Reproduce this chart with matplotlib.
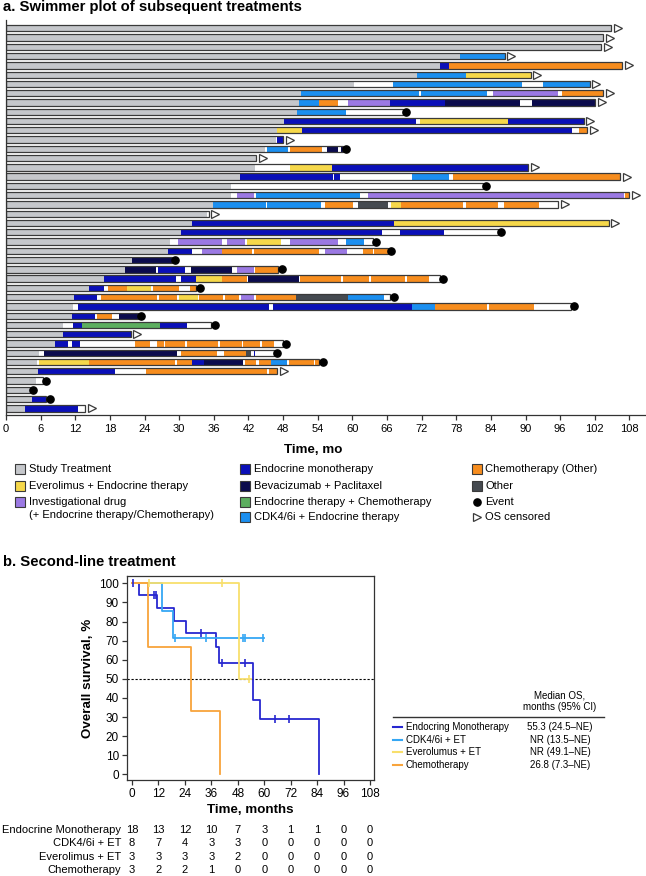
import matplotlib
matplotlib.use("Agg")
import matplotlib.pyplot as plt
from matplotlib.lines import Line2D
from matplotlib.patches import Rectangle
from matplotlib.transforms import blended_transform_factory
import numpy as np

plt.rcParams['font.family'] = ['Liberation Sans', 'DejaVu Sans']

# ---------------- DATA: swimmer plot (segment code, end month) ----------------
# S study, Y everolimus+ET, P investigational, B endocrine mono, N bev+pac,
# G endocrine+chemo, C CDK4/6i+ET, O chemo (other), X other, W no treatment
p01 = [("S", 104.8)]
p02 = [("S", 103.4)]
p03 = [("S", 103.1)]
p04 = [("S", 78.6), ("C", 86.4)]
p05 = [("S", 75.2), ("B", 76.8), ("O", 106.8)]
p06 = [("S", 71.2), ("C", 79.7), ("Y", 90.9)]
p07 = [("S", 60.3), ("W", 67.1), ("C", 89.4), ("W", 93.0), ("C", 101.1)]
p08 = [("S", 51.1), ("C", 71.6), ("W", 71.9), ("C", 83.4), ("W", 84.3), ("P", 95.6), ("W", 96.3), ("O", 103.4)]
p09 = [("S", 50.8), ("C", 54.2), ("O", 57.6), ("W", 59.3), ("P", 66.6), ("B", 76.1), ("N", 89.1), ("W", 91.2), ("N", 102.1)]
p10 = [("S", 50.4), ("C", 58.9), ("W", 68.8)]
p11 = [("S", 48.2), ("B", 71.0), ("W", 71.8), ("Y", 86.9), ("B", 100.1)]
p12 = [("S", 47.0), ("Y", 51.3), ("B", 98.0), ("W", 99.3), ("O", 100.7)]
p13 = [("S", 46.8), ("W", 47.0), ("B", 48.0)]
p14 = [("S", 44.9), ("W", 45.3), ("C", 48.9), ("W", 49.2), ("O", 54.7), ("W", 55.6), ("N", 57.6), ("W", 58.0), ("N", 58.3)]
p15 = [("S", 43.3)]
p16 = [("S", 43.2), ("W", 49.2), ("Y", 56.4), ("B", 90.5)]
p17 = [("S", 40.6), ("B", 56.6), ("W", 56.8), ("B", 57.9), ("W", 70.3), ("C", 76.8), ("W", 77.4), ("O", 106.4)]
p18 = [("S", 38.9), ("W", 82.6)]
p19 = [("S", 38.9), ("W", 40.0), ("P", 43.0), ("W", 43.3), ("C", 61.4), ("W", 62.7), ("P", 107.1), ("W", 107.3), ("O", 108.0)]
p20 = [("S", 35.8), ("C", 45.0), ("W", 45.2), ("C", 54.6), ("W", 55.2), ("O", 60.2), ("W", 60.9), ("X", 66.1), ("W", 66.7),
       ("Y", 68.5), ("O", 79.1), ("W", 79.7), ("O", 85.3), ("W", 86.2), ("O", 92.4), ("W", 95.7)]
p21 = [("S", 34.8), ("W", 35.1)]
p22 = [("S", 32.2), ("B", 67.2), ("Y", 104.4)]
p23 = [("S", 30.3), ("B", 65.2), ("W", 68.3), ("B", 75.8), ("W", 85.2)]
p24 = [("S", 28.4), ("W", 29.8), ("P", 37.4), ("W", 38.2), ("P", 41.4), ("W", 41.7), ("Y", 47.6), ("W", 49.2), ("P", 57.6),
       ("W", 58.9), ("C", 62.0), ("W", 63.6)]
p25 = [("S", 28.0), ("B", 32.2), ("W", 34.0), ("P", 37.4), ("O", 42.7), ("W", 43.0), ("O", 54.2), ("W", 55.3), ("P", 59.0),
       ("W", 61.8), ("O", 63.6), ("W", 63.8), ("O", 66.2)]
p26 = [("S", 21.9), ("N", 28.7)]
p27 = [("S", 20.6), ("N", 26.0), ("W", 26.3), ("B", 31.0), ("W", 32.1), ("N", 39.1), ("W", 40.0), ("P", 42.9), ("W", 43.2), ("O", 47.2)]
p28 = [("S", 17.0), ("B", 29.4), ("W", 30.3), ("B", 33.0), ("Y", 37.4), ("O", 41.7), ("W", 42.0), ("N", 50.7), ("W", 51.0),
       ("O", 58.0), ("W", 58.3), ("O", 62.9), ("W", 63.2), ("O", 69.2), ("W", 69.5), ("O", 73.2), ("W", 75.1)]
p29 = [("S", 14.4), ("B", 16.9), ("W", 17.6), ("O", 21.0), ("Y", 25.2), ("W", 25.5), ("O", 29.9), ("W", 31.8), ("O", 33.0)]
p30 = [("S", 11.8), ("B", 15.7), ("W", 16.4), ("O", 26.2), ("W", 26.5), ("O", 29.6), ("W", 29.9), ("Y", 33.2), ("W", 33.5),
       ("O", 37.6), ("W", 37.9), ("O", 40.4), ("W", 40.7), ("P", 43.0), ("W", 43.3), ("O", 50.3), ("X", 59.2), ("C", 65.5), ("W", 66.6)]
p31 = [("S", 11.6), ("W", 12.4), ("B", 45.5), ("W", 46.3), ("B", 70.3), ("C", 74.4), ("O", 83.3), ("W", 83.6), ("O", 91.5), ("W", 97.9)]
p32 = [("S", 11.4), ("B", 15.4), ("W", 15.8), ("O", 18.3), ("W", 19.6), ("N", 22.9)]
p33 = [("S", 9.8), ("W", 11.6), ("B", 13.1), ("G", 26.7), ("B", 31.3), ("W", 35.6)]
p34 = [("S", 9.8), ("B", 21.6)]
p35 = [("S", 8.5), ("B", 10.7), ("W", 11.4), ("B", 12.8), ("W", 22.4), ("O", 25.0), ("W", 26.1), ("O", 27.3), ("W", 27.6),
       ("O", 31.0), ("W", 31.3), ("O", 36.8), ("W", 37.1), ("O", 40.8), ("W", 41.1), ("O", 44.0), ("W", 44.3), ("O", 46.4), ("W", 48.0)]
p36 = [("S", 5.8), ("W", 6.6), ("N", 29.6), ("W", 30.3), ("O", 36.5), ("W", 37.7), ("O", 41.5), ("X", 42.4), ("W", 42.9),
       ("B", 43.2), ("W", 46.4)]
p37 = [("S", 5.4), ("W", 5.7), ("Y", 14.4), ("O", 29.3), ("W", 29.6), ("O", 32.2), ("B", 34.3), ("N", 41.0), ("W", 41.4),
       ("O", 43.3), ("W", 43.9), ("O", 45.9), ("C", 48.6), ("W", 49.1), ("O", 53.3), ("W", 53.6), ("O", 54.3)]
p38 = [("S", 5.6), ("B", 18.8), ("W", 24.2), ("O", 45.2), ("W", 45.5), ("O", 47.0)]
p39 = [("S", 5.2), ("W", 6.4)]
p40 = [("S", 4.1)]
p41 = [("S", 4.5), ("B", 7.0)]
p42 = [("S", 3.3), ("B", 12.5), ("W", 13.7)]

patients = [p01, p02, p03, p04, p05, p06, p07, p08, p09, p10, p11, p12, p13, p14,
            p15, p16, p17, p18, p19, p20, p21, p22, p23, p24, p25, p26, p27, p28,
            p29, p30, p31, p32, p33, p34, p35, p36, p37, p38, p39, p40, p41, p42]
# C = OS censored, E = event
outcomes = "CCCCCCCCCECCCECCCECCCCEEEEEEEEEEECEEECEEEC"

swim_ticks = list(range(0, 109, 6))

legend_a_labels = ["Study Treatment", "Everolimus + Endocrine therapy", "Investigational drug",
                   "Endocrine monotherapy", "Bevacizumab + Paclitaxel", "Endocrine therapy + Chemotherapy",
                   "CDK4/6i + Endocrine therapy", "Chemotherapy (Other)", "Other", "Event", "OS censored"]

# ---------------- DATA: Kaplan-Meier ----------------
endo_t = [0, 3.2, 11.2, 19.1, 24.5, 38.1, 39.5, 54.8, 58.1, 85.0]
endo_s = [100, 94.1, 87.3, 80.5, 73.9, 66.5, 58.5, 39.0, 29.0, 0]
endo_cens = [0.6, 10.1, 10.9, 31.3, 41.0, 51.3, 65.0, 71.4]

cdk_t = [0, 13.6, 18.8, 59.8]
cdk_s = [100, 85.5, 71.2, 71.2]
cdk_cens = [19.4, 33.6, 50.5, 51.3, 59.6]

evero_t = [0, 48.5, 53.8]
evero_s = [100, 50, 50]
evero_cens = [7.6, 40.7, 53.2]

chemo_t = [0, 7.4, 26.6, 39.9]
chemo_s = [100, 66.7, 33.3, 0]
chemo_cens = []

km_labels = ["Endocring Monotherapy", "CDK4/6i + ET", "Everolumus + ET", "Chemotherapy"]
km_medians = ["55.3 (24.5\u2013NE)", "NR (13.5\u2013NE)", "NR (49.1\u2013NE)", "26.8 (7.3\u2013NE)"]

risk_labels = ["Endocrine Monotherapy", "CDK4/6i + ET", "Everolimus + ET", "Chemotherapy"]
risk_times = list(range(0, 109, 12))
risk_endo = [18, 13, 12, 10, 7, 3, 1, 1, 0, 0]
risk_cdk = [8, 7, 4, 3, 3, 0, 0, 0, 0, 0]
risk_evero = [3, 3, 3, 3, 2, 0, 0, 0, 0, 0]
risk_chemo = [3, 2, 2, 1, 0, 0, 0, 0, 0, 0]

# ---------------- STYLE ----------------
colors = {"S": "#c5c7cb", "Y": "#f6d84a", "P": "#9b79e3", "B": "#0a0fb8", "N": "#0b0b4d",
          "G": "#5cae5f", "C": "#1b8ff0", "O": "#f78d1e", "X": "#454a50", "W": "#ffffff"}
legend_codes = ["S", "Y", "P", "B", "N", "G", "C", "O", "X"]
km_colors = ["#2727d0", "#35a7f4", "#f8df6c", "#f8a43c"]
edge = "#3a3a3a"

W, H = 646, 876
fig = plt.figure(figsize=(W / 100, H / 100), dpi=100)


def fx(x):
    return x / W


def fy(y):
    return 1 - y / H


# ---------------- Panel a ----------------
fig.text(fx(3), fy(7.5), "a. Swimmer plot of subsequent treatments", fontsize=10.7,
         fontweight="bold", va="center", ha="left")

ax = fig.add_axes([fx(6), fy(415), fx(645) - fx(6), fy(20) - fy(415)])
bar_h = 0.68
for i, (segs, out) in enumerate(zip(patients, outcomes)):
    start = 0.0
    for code, end in segs:
        ax.barh(i, end - start, left=start, height=bar_h, color=colors[code],
                edgecolor="none", linewidth=0)
        start = end
    ax.barh(i, start, left=0, height=bar_h, fill=False, edgecolor=edge, linewidth=0.9)
    if out == "E":
        ax.plot(start + 0.55, i, "o", color="black", ms=5.2, clip_on=False, zorder=5)
    else:
        ax.plot(start + 1.15, i, ">", mfc="white", mec=edge, ms=5.6, mew=0.9,
                clip_on=False, zorder=5)

ax.set_xlim(0, 110.7)
ax.set_ylim(41.71, -0.895)
ax.set_yticks([])
ax.set_xticks(swim_ticks)
ax.tick_params(axis="x", labelsize=8, length=3.5, width=0.9, color="#333333", pad=3)
for s in ["top", "right"]:
    ax.spines[s].set_visible(False)
for s in ["left", "bottom"]:
    ax.spines[s].set_linewidth(0.9)
    ax.spines[s].set_color("#333333")

fig.text(fx(313), fy(450), "Time, mo", fontsize=9.6, fontweight="bold", ha="center", va="center")

# legend panel a
col_x = [20, 245, 476.7]
row_y = [469.5, 486, 502, 517]
leg_pos = [(0, 0), (0, 1), (0, 2), (1, 0), (1, 1), (1, 2), (1, 3), (2, 0), (2, 1)]
for code, lab, (c, r) in zip(legend_codes, legend_a_labels[:9], leg_pos):
    cx, cy = col_x[c], row_y[r]
    fig.add_artist(Rectangle((fx(cx - 5), fy(cy + 5)), 10 / W, 10 / H, facecolor=colors[code],
                             edgecolor=edge, linewidth=0.8, transform=fig.transFigure))
    fig.text(fx(cx + 8.5), fy(cy), lab, fontsize=8, ha="left", va="center")
fig.text(fx(28.5), fy(row_y[3] - 1.5), "(+ Endocrine therapy/Chemotherapy)", fontsize=8,
         ha="left", va="center")
fig.add_artist(Line2D([fx(col_x[2])], [fy(row_y[2])], marker="o", color="black", ms=5.2,
                      transform=fig.transFigure))
fig.text(fx(col_x[2] + 8.5), fy(row_y[2]), legend_a_labels[9], fontsize=8, ha="left", va="center")
fig.add_artist(Line2D([fx(col_x[2])], [fy(row_y[3])], marker=">", mfc="white", mec=edge, mew=0.9,
                      ms=5.6, transform=fig.transFigure))
fig.text(fx(col_x[2] + 8.5), fy(row_y[3]), legend_a_labels[10], fontsize=8, ha="left", va="center")

# ---------------- Panel b ----------------
fig.text(fx(3), fy(561.7), "b. Second-line treatment", fontsize=10.7, fontweight="bold",
         va="center", ha="left")

ax2 = fig.add_axes([fx(126.7), fy(780), fx(373.5) - fx(126.7), fy(576) - fy(780)])
groups = [(endo_t, endo_s, endo_cens), (cdk_t, cdk_s, cdk_cens),
          (evero_t, evero_s, evero_cens), (chemo_t, chemo_s, chemo_cens)]
ax2.axhline(50, color="black", lw=0.8, ls=(0, (2, 1.6)), zorder=1)
for (t, s, cens), col in zip(groups, km_colors):
    ax2.step(t, s, where="post", color=col, lw=1.3, zorder=3)
    if cens:
        idx = np.searchsorted(t, cens, side="right") - 1
        ax2.plot(cens, np.array(s)[idx], "|", color=col, ms=6, mew=1.2, zorder=4)

ax2.set_xlim(-2.4, 109.6)
ax2.set_ylim(-2.9, 103.8)
ax2.set_xticks(risk_times)
ax2.set_yticks(range(0, 101, 10))
ax2.tick_params(labelsize=8.5, length=3.5, width=0.9, color="#333333", pad=2)
for s in ax2.spines.values():
    s.set_linewidth(0.9)
    s.set_color("#333333")
ax2.set_xlabel("Time, months", fontsize=9.6, fontweight="bold", labelpad=3)
ax2.set_ylabel("Overall survival, %", fontsize=9.6, fontweight="bold", labelpad=4)

# legend / median table
fig.text(fx(560), fy(695), "Median OS,", fontsize=7, ha="center", va="center")
fig.text(fx(560), fy(707), "months (95% CI)", fontsize=7, ha="center", va="center")
fig.add_artist(Line2D([fx(392.5), fx(604)], [fy(716.7), fy(716.7)], color="#333333", lw=1,
                      transform=fig.transFigure))
for k, (lab, med, col) in enumerate(zip(km_labels, km_medians, km_colors)):
    yy = 727 + k * 12.7
    fig.add_artist(Line2D([fx(392.5), fx(402)], [fy(yy), fy(yy)], color=col, lw=1.5,
                          transform=fig.transFigure))
    fig.text(fx(406), fy(yy), lab, fontsize=7, ha="left", va="center")
    fig.text(fx(560), fy(yy), med, fontsize=7, ha="center", va="center")

# risk table
trans = blended_transform_factory(ax2.transData, fig.transFigure)
risk_rows = [risk_endo, risk_cdk, risk_evero, risk_chemo]
for k, (lab, vals) in enumerate(zip(risk_labels, risk_rows)):
    yy = 830 + k * 13.3
    fig.text(fx(121.5), fy(yy), lab, fontsize=8, ha="right", va="center")
    for tm, v in zip(risk_times, vals):
        ax2.text(tm, fy(yy), str(v), transform=trans, fontsize=8, ha="center", va="center",
                 clip_on=False)

fig.savefig("out.png", dpi=100)
